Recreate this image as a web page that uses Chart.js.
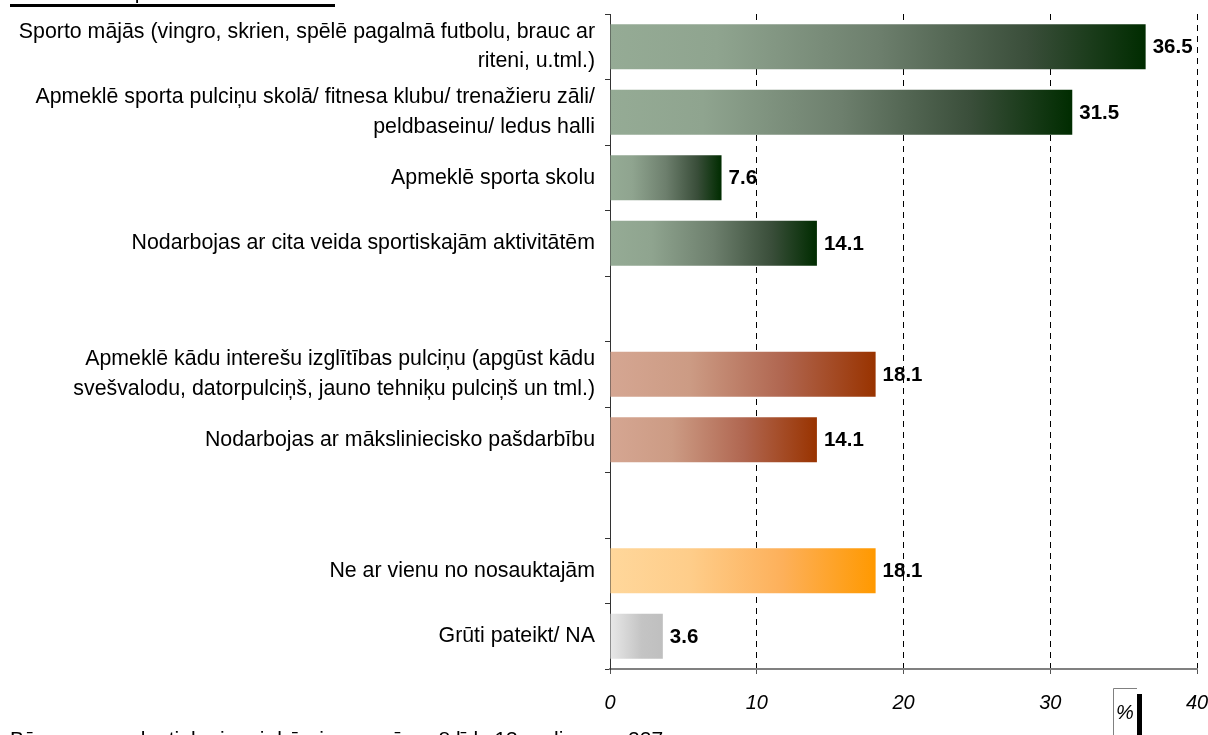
<!DOCTYPE html>
<html>
<head>
<meta charset="utf-8">
<script src="https://cdn.jsdelivr.net/npm/chart.js@4.4.1/dist/chart.umd.min.js"></script>
<style>
  html, body { margin: 0; padding: 0; background: #fff; overflow: hidden; }
  #wrap { position: relative; width: 1208px; height: 735px; }
  #c { position: absolute; left: 0; top: 0; }
  .note { position: absolute; font-family: "Liberation Sans", Arial, sans-serif; font-size: 21px; color: #000; white-space: nowrap; }
  #topnote { left: 10px; top: -20px; border-bottom: 3px solid #000; line-height: 24px; width: 325px; overflow: hidden; }
  #botnote { left: 10px; top: 727px; line-height: 24px; }
</style>
</head>
<body>
<div id="wrap">
  <canvas id="c" width="1208" height="735"></canvas>
  <div class="note" id="topnote">Bāze: visi respondenti</div>
  <div class="note" id="botnote">Bāze: respondenti, kuriem ir bērni vecumā no 8 līdz 13 gadiem, n=227</div>
</div>
<script>
// ---- data ----
const categories = [
  ["Sporto mājās (vingro, skrien, spēlē pagalmā futbolu, brauc ar", "riteni, u.tml.)"],
  ["Apmeklē sporta pulciņu skolā/ fitnesa klubu/ trenažieru zāli/", "peldbaseinu/ ledus halli"],
  "Apmeklē sporta skolu",
  "Nodarbojas ar cita veida sportiskajām aktivitātēm",
  "",
  ["Apmeklē kādu interešu izglītības pulciņu (apgūst kādu", "svešvalodu, datorpulciņš, jauno tehniķu pulciņš un tml.)"],
  "Nodarbojas ar māksliniecisko pašdarbību",
  "",
  "Ne ar vienu no nosauktajām",
  "Grūti pateikt/ NA"
];
const values = [36.5, 31.5, 7.6, 14.1, null, 18.1, 14.1, null, 18.1, 3.6];
const groups = ["sport", "sport", "sport", "sport", null, "interest", "interest", null, "none", "na"];
const xTicks = [0, 10, 20, 30, 40];

// ---- styles ----
const palettes = {
  sport:    [[0, '#95ab95'], [0.2, '#8fa48f'], [0.5, '#6d7f6d'], [0.78, '#3a4e3a'], [1, '#002c00']],
  interest: [[0, '#d5a692'], [0.3, '#cc9b84'], [0.65, '#b06650'], [1, '#993300']],
  none:     [[0, '#ffd79b'], [0.3, '#fecd8a'], [0.65, '#fdb05a'], [1, '#ff9900']],
  na:       [[0, '#e8e8e8'], [0.6, '#c4c4c4'], [1, '#bfbfbf']]
};
const FONT = '"Liberation Sans", Arial, sans-serif';

function barGradient(ctx) {
  const chart = ctx.chart;
  if (!chart.chartArea) return 'rgba(0,0,0,0)';
  const v = ctx.raw;
  const g = groups[ctx.dataIndex];
  if (v == null || !g) return 'rgba(0,0,0,0)';
  const xs = chart.scales.x;
  const x0 = xs.getPixelForValue(0), x1 = xs.getPixelForValue(v);
  const grad = chart.ctx.createLinearGradient(x0, 0, x1, 0);
  palettes[g].forEach(([o, c]) => grad.addColorStop(o, c));
  return grad;
}

const valueLabels = {
  id: 'valueLabels',
  afterDatasetsDraw(chart) {
    const c = chart.ctx;
    const meta = chart.getDatasetMeta(0);
    c.save();
    c.font = 'bold 20.5px ' + FONT;
    c.fillStyle = '#000';
    c.textAlign = 'left';
    c.textBaseline = 'middle';
    meta.data.forEach((bar, i) => {
      const v = values[i];
      if (v == null) return;
      c.fillText(v.toFixed(1), bar.x + 7, bar.y + 1);
    });
    c.restore();
  }
};

const percentBox = {
  id: 'percentBox',
  afterDraw(chart) {
    const c = chart.ctx;
    const xs = chart.scales.x;
    const bx = Math.round(xs.getPixelForValue(34.28));
    const by = chart.chartArea.bottom + 19;
    const w = 24, h = 50;
    c.save();
    c.fillStyle = '#000';
    c.fillRect(bx + w, by + 6, 5, h);
    c.fillStyle = '#fff';
    c.fillRect(bx, by, w, h);
    c.strokeStyle = '#808080';
    c.lineWidth = 1;
    c.beginPath();
    c.moveTo(bx + 0.5, by + h);
    c.lineTo(bx + 0.5, by + 0.5);
    c.lineTo(bx + w, by + 0.5);
    c.stroke();
    c.fillStyle = '#000';
    c.font = 'italic 20px ' + FONT;
    c.textAlign = 'center';
    c.textBaseline = 'middle';
    c.fillText('%', bx + w / 2, by + 25);
    c.restore();
  }
};

new Chart(document.getElementById('c'), {
  type: 'bar',
  data: {
    labels: categories,
    datasets: [{
      data: values,
      backgroundColor: barGradient,
      borderWidth: 0,
      barPercentage: 0.78,
      categoryPercentage: 0.88
    }]
  },
  options: {
    indexAxis: 'y',
    responsive: false,
    animation: false,
    events: [],
    layout: { padding: { top: 14, right: 11, left: 0, bottom: 0 } },
    plugins: { legend: { display: false }, tooltip: { enabled: false } },
    scales: {
      x: {
        min: 0, max: 40,
        afterBuildTicks: s => { s.ticks = xTicks.map(v => ({ value: v })); },
        afterFit: s => { s.height = 66; s.paddingLeft = 0; s.paddingRight = 0; },
        border: { display: true, color: '#808080', width: 2, dash: [6, 5] },
        grid: {
          display: true,
          drawOnChartArea: true,
          drawTicks: true,
          tickLength: 5,
          color: ctx => ctx.tick && ctx.tick.value === 0 ? 'rgba(0,0,0,0)' : '#000',
          tickColor: '#555',
          tickBorderDash: [],
          lineWidth: 1
        },
        ticks: {
          padding: 17,
          color: '#000',
          font: { family: FONT, size: 20, style: 'italic' }
        }
      },
      y: {
        afterFit: s => { s.width = 610; s.paddingTop = 0; s.paddingBottom = 0; },
        border: { display: true, color: '#333', width: 1 },
        grid: {
          display: true,
          offset: true,
          drawOnChartArea: false,
          drawTicks: true,
          tickLength: 5,
          tickColor: '#333'
        },
        ticks: {
          padding: 10,
          color: '#000',
          autoSkip: false,
          font: { family: FONT, size: 21.33, lineHeight: 1.38 }
        }
      }
    }
  },
  plugins: [valueLabels, percentBox]
});
</script>
</body>
</html>
